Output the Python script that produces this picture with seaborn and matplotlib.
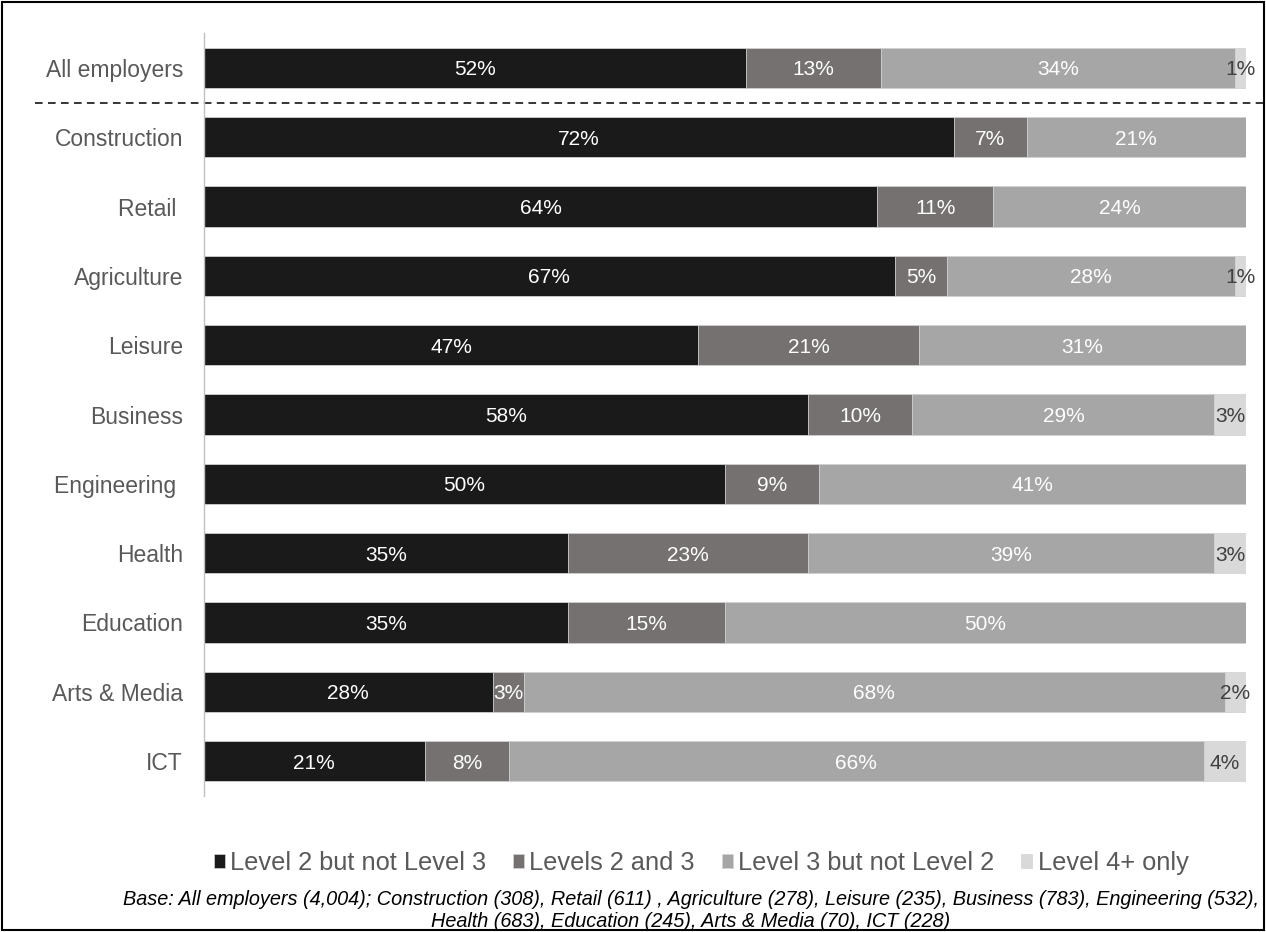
import numpy as np
import pandas as pd
import matplotlib
matplotlib.use("Agg")
import matplotlib.pyplot as plt
from matplotlib.patches import Patch, Rectangle
import seaborn as sns

categories = ["All employers", "Construction", "Retail ", "Agriculture", "Leisure",
              "Business", "Engineering ", "Health", "Education", "Arts & Media", "ICT"]
series = ["Level 2 but not Level 3", "Levels 2 and 3", "Level 3 but not Level 2", "Level 4+ only"]
level2_not3 = [52, 72, 64, 67, 47, 58, 50, 35, 35, 28, 21]
levels2_3 = [13, 7, 11, 5, 21, 10, 9, 23, 15, 3, 8]
level3_not2 = [34, 21, 24, 28, 31, 29, 41, 39, 50, 68, 66]
level4_only = [1, 0, 0, 1, 0, 3, 0, 3, 0, 2, 4]
colors = ["#1a1a1a", "#767171", "#a6a6a6", "#d9d9d9"]
label_colors = ["white", "white", "white", "#404040"]
footnote = ("Base: All employers (4,004); Construction (308), Retail (611) , Agriculture (278), Leisure (235), "
            "Business (783), Engineering (532),\nHealth (683), Education (245), Arts & Media (70), ICT (228)")

sns.set_theme(style="white")
plt.rcParams["font.family"] = ["Liberation Sans", "DejaVu Sans"]

vals = np.array([level2_not3, levels2_3, level3_not2, level4_only], dtype=float)
totals = vals.sum(axis=0)
shares = vals / totals * 100
cums = np.cumsum(shares, axis=0)

fig = plt.figure(figsize=(12.66, 9.32), dpi=100)
ax = fig.add_axes([0.161, 0.1462, 0.984 - 0.161, 0.9643 - 0.1462])

for j in range(3, -1, -1):
    df = pd.DataFrame({"category": categories, "value": cums[j]})
    sns.barplot(data=df, x="value", y="category", order=categories, orient="h",
                color=colors[j], saturation=1, width=0.58, edgecolor="#d4d4d4",
                linewidth=0.6, ax=ax)

for i in range(len(categories)):
    for j in range(4):
        if vals[j, i] <= 0:
            continue
        left = cums[j, i] - shares[j, i]
        ax.text(left + shares[j, i] / 2, i, f"{int(vals[j, i])}%", ha="center",
                va="center_baseline", color=label_colors[j], fontsize=15)

ax.set_xlim(0, 100)
ax.set_ylim(10.5, -0.5)
ax.set_xlabel("")
ax.set_ylabel("")
ax.set_xticks([])
ax.tick_params(axis="y", length=0, pad=15, labelsize=16.5, labelcolor="#595959")
for lbl in ax.get_yticklabels():
    lbl.set_verticalalignment("center_baseline")
for s in ["top", "right", "bottom"]:
    ax.spines[s].set_visible(False)
ax.spines["left"].set_color("#bfbfbf")
ax.spines["left"].set_linewidth(1.0)

ax.plot([-16.2, 102.5], [0.5, 0.5], color="black", lw=1.1, linestyle=(0, (5, 3.5)),
        clip_on=False)

handles = [Patch(facecolor=c, edgecolor="#d4d4d4", linewidth=0.5) for c in colors]
fig.legend(handles, series, loc="center", bbox_to_anchor=(701 / 1266, 1 - 863 / 932),
           ncol=4, frameon=False, fontsize=18.3, labelcolor="#595959",
           handlelength=0.45, handleheight=0.45, handletextpad=0.2, columnspacing=1.05)

fig.text(691 / 1266, 1 - 910.5 / 932, footnote, ha="center", va="center",
         fontsize=14.35, style="italic", color="black", linespacing=1.2)

fig.patches.append(Rectangle((0.0015, 0.002), 0.997, 0.996, transform=fig.transFigure,
                             fill=False, edgecolor="black", linewidth=1.5))

fig.savefig("out.png", dpi=100)
